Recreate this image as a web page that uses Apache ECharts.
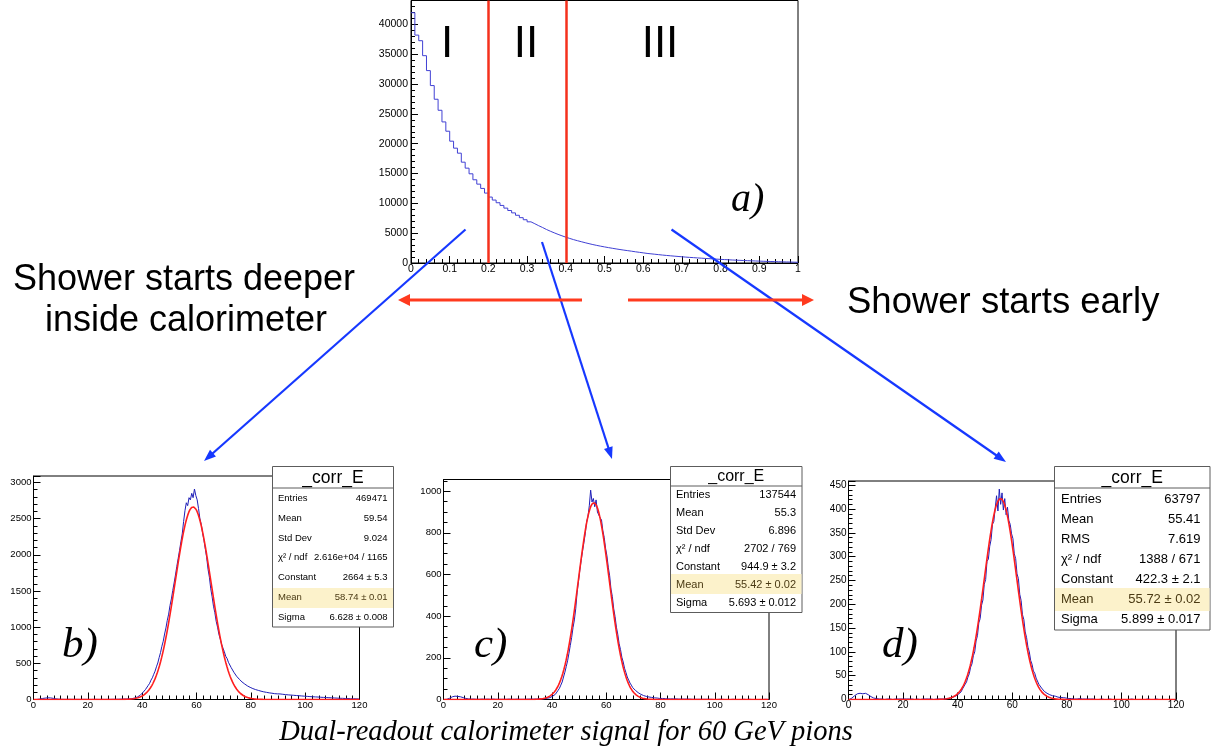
<!DOCTYPE html>
<html>
<head>
<meta charset="utf-8">
<script src="https://cdn.jsdelivr.net/npm/echarts@6/dist/echarts.min.js"></script>
<style>
  html, body { margin: 0; padding: 0; background: #fff; }
  #chart { width: 1213px; height: 755px; }
</style>
</head>
<body>
<div id="chart"></div>
<script>
// ---------------------------------------------------------------------------
// Data
// ---------------------------------------------------------------------------

// a) shower-start fraction, 100 bins on [0, 1]
const depthBinWidth = 0.01;
const depthCounts = [
  41950, 38200, 37260, 34750, 32250, 29740, 27450, 25600, 23650, 22090,
  20420, 19250, 18410, 16900, 15900, 14950, 13950, 13220, 12500, 11720,
  11050, 10550, 10100, 9650, 9200, 8800, 8400, 8000, 7600, 7250,
  6900, 6580, 6250, 5950, 5620, 5330, 5060, 4800, 4560, 4330,
  4120, 3920, 3740, 3570, 3400, 3240, 3090, 2950, 2820, 2700,
  2580, 2470, 2360, 2260, 2160, 2070, 1980, 1880, 1790, 1700,
  1610, 1540, 1470, 1400, 1330, 1270, 1210, 1150, 1100, 1040,
  990, 940, 900, 850, 810, 770, 730, 690, 650, 610,
  575, 540, 505, 475, 445, 415, 390, 365, 340, 315,
  290, 270, 250, 230, 210, 190, 175, 160, 140, 120
];
const regionCuts = [0.2, 0.4];
const regionNames = ['I', 'II', 'III'];

// b), c), d) calorimeter signal, 0.5 GeV bins on [0, 120]
const energyBinWidth = 0.5;
const countsB = [
  0,0,1,3,6,10,14,17,19,21,23,24,22,20,16,13,9,7,5,4,
  3,3,2,3,2,2,3,2,2,2,2,1,2,2,1,2,2,1,2,2,
  1,2,1,2,2,1,2,2,1,2,2,2,1,2,2,3,2,2,3,3,
  3,3,4,4,5,5,6,6,7,8,9,10,12,15,20,25,35,44,58,72,
  96,112,140,162,196,224,268,300,348,392,452,505,580,648,735,805,905,990,1095,1180,
  1300,1390,1505,1610,1720,1840,1950,2060,2180,2290,2460,2610,2720,2680,2790,2760,2850,2790,2910,2820,
  2760,2640,2500,2420,2300,2200,2080,1960,1800,1690,1530,1420,1290,1200,1080,1000,900,835,760,710,
  660,598,568,515,488,442,418,377,356,322,308,280,266,243,233,214,204,188,181,168,
  162,151,147,137,134,126,123,115,114,106,105,99,98,92,92,87,87,81,82,78,
  80,77,76,72,72,68,67,64,65,61,61,58,59,55,55,52,52,49,49,46,
  46,43,44,40,41,38,39,36,37,34,35,31,32,29,30,27,28,25,26,23,
  24,21,22,19,20,17,19,16,17,14,16,13,14,11,13,10,12,9,10,8
];
const countsC = [
  0,0,1,3,6,10,13,15,16,15,15,14,13,11,9,7,5,4,3,2,
  2,1,2,1,1,2,1,1,2,1,1,1,2,1,1,1,2,1,1,1,
  1,1,1,2,1,1,1,1,2,1,1,1,1,1,2,1,1,1,1,2,
  1,1,2,1,2,2,2,2,2,3,3,3,3,3,4,5,6,8,9,12,
  16,21,25,34,44,54,69,84,108,131,158,186,222,260,298,345,382,436,512,566,
  620,668,712,752,795,852,878,930,1005,948,965,925,958,900,905,872,862,810,778,726,
  690,635,594,530,494,436,398,347,313,268,240,203,180,150,130,108,94,79,69,57,
  50,44,38,33,28,25,22,19,17,15,14,12,11,10,9,8,7,7,6,5,
  5,5,4,4,4,3,3,3,3,3,2,3,2,2,2,2,2,2,1,2,
  1,2,1,1,1,1,2,1,1,1,1,1,0,1,1,1,0,1,1,0,
  1,0,1,1,0,1,0,0,1,0,1,0,0,1,0,0,1,0,0,0,
  0,1,0,0,0,1,0,0,0,0,1,0,0,0,0,0,0,1,0,0
];
const countsD = [
  0,1,3,5,8,10,12,14,13,15,12,14,13,11,10,8,6,4,3,2,
  2,1,1,2,1,1,0,1,1,2,1,1,0,1,1,1,1,0,1,1,
  1,0,1,1,1,0,1,1,0,1,1,1,0,1,1,0,1,1,1,0,
  1,1,0,1,1,1,1,1,1,2,1,2,2,3,3,4,5,6,7,9,
  11,15,16,22,25,32,37,47,54,68,75,92,100,123,134,161,170,198,209,242,
  252,290,295,322,336,368,374,402,428,396,442,410,434,398,422,388,404,376,368,348,
  338,306,296,264,254,221,208,178,168,142,130,110,100,82,74,60,55,45,41,32,
  28,24,21,17,15,13,12,10,9,8,7,7,6,5,5,4,4,4,3,3,
  3,2,2,2,2,1,2,1,1,2,1,1,1,1,0,1,1,1,0,1,
  1,0,1,0,1,1,0,0,1,0,0,1,0,0,1,0,0,0,1,0,
  0,0,1,0,0,0,0,1,0,0,0,0,1,0,0,0,0,0,0,1,
  0,0,0,0,0,1,0,0,0,0,0,0,0,0,0,0,0,0,0,0
];

// Gaussian fit results [Constant, Mean, Sigma] and their errors
const fitB = [2664, 58.74, 6.628];
const fitErrB = [5.3, 0.01, 0.008];
const fitC = [944.9, 55.42, 5.693];
const fitErrC = [3.2, 0.02, 0.012];
const fitD = [422.3, 55.72, 5.899];
const fitErrD = [2.1, 0.02, 0.017];

// Histogram statistics shown in the boxes
const statsB = [['Entries', '469471'], ['Mean', '59.54'], ['Std Dev', '9.024'], ['χ² / ndf', '2.616e+04 / 1165']];
const statsC = [['Entries', '137544'], ['Mean', '55.3'], ['Std Dev', '6.896'], ['χ² / ndf', '2702 / 769']];
const statsD = [['Entries', '63797'], ['Mean', '55.41'], ['RMS', '7.619'], ['χ² / ndf', '1388 / 671']];
const histName = '_corr_E';

const panelTags = ['a)', 'b)', 'c)', 'd)'];
const leftNote = ['Shower starts deeper', 'inside calorimeter'];
const rightNote = 'Shower starts early';
const caption = 'Dual-readout calorimeter signal for 60 GeV pions';

// ---------------------------------------------------------------------------
// Helpers
// ---------------------------------------------------------------------------
const SANS = '"Liberation Sans", Arial, Helvetica, sans-serif';
const SERIF = '"Liberation Serif", "Times New Roman", serif';
const HIST_BLUE = '#1f1fb8';
const FIT_RED = '#ff1e1e';

function stepPoints(counts, w) {
  const pts = counts.map((c, i) => [+(i * w).toFixed(4), c]);
  pts.push([+(counts.length * w).toFixed(4), counts[counts.length - 1]]);
  return pts;
}
function centerPoints(counts, w) {
  return counts.map((c, i) => [(i + 0.5) * w, c]);
}
// ROOT "gaus" function evaluated from the fitted parameters
function gausCurve(fit, lo, hi, step) {
  const [A, m, s] = fit;
  const pts = [];
  for (let x = lo; x <= hi + 1e-9; x += step) {
    pts.push([x, A * Math.exp(-0.5 * ((x - m) / s) ** 2)]);
  }
  return pts;
}
function fmt(v) { return String(Math.round(v * 1000) / 1000); }

function xAxisCfg(gi, max, interval, minorSplit, fs, margin) {
  return {
    type: 'value', gridIndex: gi, min: 0, max: max, interval: interval,
    axisLine: { show: true, onZero: false, lineStyle: { color: '#000', width: 1 } },
    axisTick: { show: true, inside: true, length: 7, lineStyle: { color: '#000', width: 1 } },
    minorTick: { show: true, splitNumber: minorSplit, length: 4, lineStyle: { color: '#000', width: 1 } },
    splitLine: { show: false },
    axisLabel: { color: '#000', fontSize: fs, fontFamily: SANS, margin: margin, formatter: fmt }
  };
}
function yAxisCfg(gi, max, interval, minorSplit, fs, margin) {
  return {
    type: 'value', gridIndex: gi, min: 0, max: max, interval: interval,
    axisLine: { show: true, lineStyle: { color: '#000', width: 1 } },
    axisTick: { show: true, inside: true, length: 7, lineStyle: { color: '#000', width: 1 } },
    minorTick: { show: true, splitNumber: minorSplit, length: 4, lineStyle: { color: '#000', width: 1 } },
    splitLine: { show: false },
    axisLabel: { color: '#000', fontSize: fs, fontFamily: SANS, margin: margin, showMaxLabel: false,
      formatter: v => (v % interval === 0 ? fmt(v) : '') }
  };
}
function gridCfg(left, top, width, height) {
  return { left, top, width, height, show: true, borderColor: '#000', borderWidth: 1, backgroundColor: '#fff' };
}

function textEl(str, x, y, font, fill, align, valign, z) {
  return {
    type: 'text', z: z || 50, silent: true,
    style: {
      text: str, x: x, y: y, font: font, fill: fill || '#000',
      align: align || 'left', textAlign: align || 'left',
      verticalAlign: valign || 'middle', textVerticalAlign: valign || 'middle'
    }
  };
}

function arrowEls(x1, y1, x2, y2, color, lw, headLen, headW) {
  const dx = x2 - x1, dy = y2 - y1, len = Math.hypot(dx, dy);
  const ux = dx / len, uy = dy / len, px = -uy, py = ux;
  const bx = x2 - ux * headLen, by = y2 - uy * headLen;
  return [
    { type: 'line', z: 40, silent: true,
      shape: { x1: x1, y1: y1, x2: bx + ux, y2: by + uy },
      style: { stroke: color, lineWidth: lw } },
    { type: 'polygon', z: 40, silent: true,
      shape: { points: [[x2, y2], [bx + px * headW / 2, by + py * headW / 2], [bx - px * headW / 2, by - py * headW / 2]] },
      style: { fill: color } }
  ];
}

function statBoxEls(L, stats, fit, err) {
  const rows = stats.concat([
    ['Constant', fit[0] + ' ± ' + err[0]],
    ['Mean', fit[1] + ' ± ' + err[1]],
    ['Sigma', fit[2] + ' ± ' + err[2]]
  ]);
  const els = [];
  els.push({ type: 'rect', z: 60, silent: true,
    shape: { x: L.x, y: L.y, width: L.w, height: L.h },
    style: { fill: '#fff', stroke: '#5c5c5c', lineWidth: 1 } });
  els.push({ type: 'rect', z: 61, silent: true,
    shape: { x: L.x + 0.5, y: L.hiTop, width: L.w - 1, height: L.hiH },
    style: { fill: '#fcf2cb' } });
  els.push({ type: 'line', z: 62, silent: true,
    shape: { x1: L.x, y1: L.sep, x2: L.x + L.w, y2: L.sep },
    style: { stroke: '#5c5c5c', lineWidth: 1 } });
  els.push(textEl(histName, L.x + L.w / 2, (L.y + L.sep) / 2 + 0.5,
    L.titleFont + 'px ' + SANS, '#000', 'center', 'middle', 63));
  rows.forEach((r, k) => {
    const y = L.row0 + k * L.rowStep;
    const col = k === 5 ? '#4a3a14' : '#000';
    els.push(textEl(r[0], L.x + L.padL, y, L.font + 'px ' + SANS, col, 'left', 'middle', 63));
    els.push(textEl(r[1], L.x + L.w - L.padR, y, L.font + 'px ' + SANS, col, 'right', 'middle', 63));
  });
  return els;
}

// ---------------------------------------------------------------------------
// Chart
// ---------------------------------------------------------------------------
const chart = echarts.init(document.getElementById('chart'), null, { renderer: 'canvas' });

const grids = [
  gridCfg(411, 0.5, 387, 262.5),
  gridCfg(33.5, 476, 326, 223.5),
  gridCfg(443.5, 479.5, 325.5, 220),
  gridCfg(848.5, 481, 327.5, 218.5)
];

const xAxes = [
  xAxisCfg(0, 1, 0.1, 5, 10.5, 1),
  xAxisCfg(1, 120, 20, 8, 9.5, 1),
  xAxisCfg(2, 120, 20, 8, 9.5, 1),
  xAxisCfg(3, 120, 20, 8, 10, 1)
];
const yAxes = [
  yAxisCfg(0, 44000, 5000, 5, 10.5, 3),
  yAxisCfg(1, 3090, 500, 5, 9.5, 2),
  yAxisCfg(2, 1056, 200, 4, 9.5, 2),
  yAxisCfg(3, 459, 50, 5, 10, 2)
];

const series = [
  {
    type: 'line', xAxisIndex: 0, yAxisIndex: 0, step: 'end', showSymbol: false, silent: true,
    data: stepPoints(depthCounts, depthBinWidth),
    lineStyle: { color: '#4040d4', width: 1 },
    markLine: {
      silent: true, symbol: 'none', animation: false,
      label: { show: false },
      lineStyle: { color: '#f5301c', width: 2.5, type: 'solid' },
      data: regionCuts.map(v => ({ xAxis: v }))
    }
  }
];
const energy = [
  { counts: countsB, fit: fitB },
  { counts: countsC, fit: fitC },
  { counts: countsD, fit: fitD }
];
energy.forEach((p, k) => {
  series.push({
    type: 'line', xAxisIndex: k + 1, yAxisIndex: k + 1, showSymbol: false, silent: true,
    data: centerPoints(p.counts, energyBinWidth),
    lineStyle: { color: HIST_BLUE, width: 1 }
  });
  series.push({
    type: 'line', xAxisIndex: k + 1, yAxisIndex: k + 1, showSymbol: false, silent: true, smooth: false,
    data: gausCurve(p.fit, 0, 120, 0.2),
    lineStyle: { color: FIT_RED, width: 1.6 }
  });
});

// Annotations: region labels, panel tags, notes, arrows, statistics boxes
const graphics = [];
const numeralX = [447, 526, 660];
regionNames.forEach((s, i) => graphics.push(textEl(s, numeralX[i], 45, '44px ' + SANS, '#000', 'center', 'middle', 45)));

graphics.push(textEl(panelTags[0], 731, 200, 'italic 40px ' + SERIF, '#000', 'left', 'middle', 45));
graphics.push(textEl(panelTags[1], 62, 646, 'italic 43px ' + SERIF, '#000', 'left', 'middle', 45));
graphics.push(textEl(panelTags[2], 474, 646, 'italic 43px ' + SERIF, '#000', 'left', 'middle', 45));
graphics.push(textEl(panelTags[3], 882, 646, 'italic 43px ' + SERIF, '#000', 'left', 'middle', 45));

graphics.push(textEl(leftNote[0], 184, 280.5, '36px ' + SANS, '#000', 'center', 'middle', 45));
graphics.push(textEl(leftNote[1], 186, 321, '36px ' + SANS, '#000', 'center', 'middle', 45));
graphics.push(textEl(rightNote, 847, 302.5, '36.5px ' + SANS, '#000', 'left', 'middle', 45));
graphics.push(textEl(caption, 566, 733, 'italic 28.5px ' + SERIF, '#000', 'center', 'middle', 45));

const BLUE_ARROW = '#1638ff';
const RED_ARROW = '#ff3a1e';
graphics.push(...arrowEls(465.5, 229.5, 204, 461, BLUE_ARROW, 2.2, 12, 9));
graphics.push(...arrowEls(542, 242, 612, 459, BLUE_ARROW, 2.2, 12, 9));
graphics.push(...arrowEls(671.5, 229.5, 1006, 462, BLUE_ARROW, 2.2, 12, 9));
graphics.push(...arrowEls(582, 300, 398, 300, RED_ARROW, 3, 12, 12));
graphics.push(...arrowEls(628, 300, 814, 300, RED_ARROW, 3, 12, 12));

graphics.push(...statBoxEls(
  { x: 272.5, y: 466.5, w: 121, h: 160.5, sep: 488, titleFont: 17.5, font: 9.5,
    row0: 498.7, rowStep: 19.7, padL: 5.5, padR: 6, hiTop: 588, hiH: 20 },
  statsB, fitB, fitErrB));
graphics.push(...statBoxEls(
  { x: 670.5, y: 466.5, w: 131.5, h: 146, sep: 486, titleFont: 16, font: 11,
    row0: 495, rowStep: 17.95, padL: 5.5, padR: 6, hiTop: 574, hiH: 20 },
  statsC, fitC, fitErrC));
graphics.push(...statBoxEls(
  { x: 1054.5, y: 466.5, w: 155.5, h: 163.5, sep: 488, titleFont: 17.5, font: 13,
    row0: 499, rowStep: 20.1, padL: 6.5, padR: 9.5, hiTop: 588, hiH: 23 },
  statsD, fitD, fitErrD));

chart.setOption({
  backgroundColor: '#fff',
  animation: false,
  grid: grids,
  xAxis: xAxes,
  yAxis: yAxes,
  series: series,
  graphic: { elements: graphics }
});
</script>
</body>
</html>
